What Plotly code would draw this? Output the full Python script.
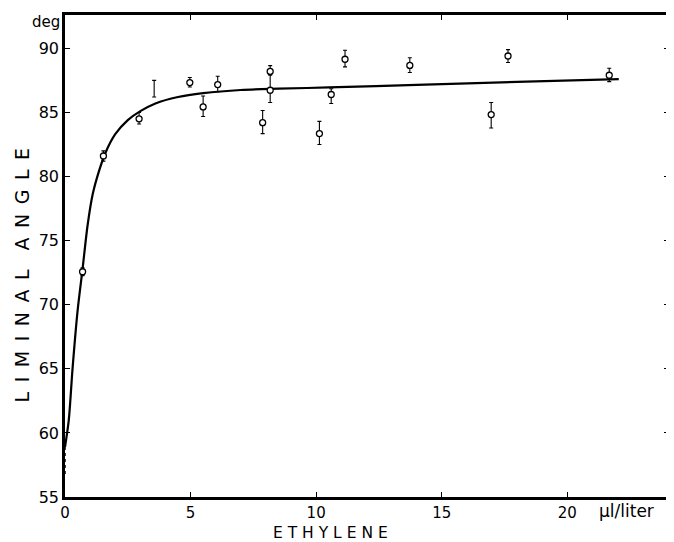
import plotly.graph_objects as go

# Measured data points (ethylene µl/liter, liminal angle deg)
pt_x = [0.70, 1.53, 2.95, 4.97, 5.50, 6.08, 7.87, 8.17, 8.17, 10.13, 10.60, 11.15, 13.73, 16.97, 17.64, 21.67]
pt_y = [72.57, 81.60, 84.50, 87.33, 85.43, 87.17, 84.20, 88.20, 86.73, 83.35, 86.40, 89.15, 88.67, 84.83, 89.40, 87.90]
pt_err_plus = [0.30, 0.40, 0.50, 0.40, 0.85, 0.65, 0.95, 0.45, 1.30, 0.95, 0.45, 0.70, 0.60, 0.95, 0.50, 0.55]
pt_err_minus = [0.30, 0.40, 0.40, 0.35, 0.75, 0.55, 0.85, 0.30, 0.95, 0.85, 0.70, 0.60, 0.55, 1.05, 0.50, 0.50]

# Error bar without a plotted circle
bar_x = [3.55]
bar_y = [86.85]
bar_err = [0.65]

# Dotted range at zero ethylene
zero_x = 0.0
zero_lo = 56.8
zero_hi = 58.9

# Fitted curve
curve_x = [0.0, 0.15, 0.30, 0.50, 0.70, 0.90, 1.10, 1.35, 1.60, 2.00, 2.50, 3.00, 3.60, 4.50,
           5.50, 7.00, 8.50, 10.50, 14.00, 18.00, 22.05]
curve_y = [58.9, 61.0, 65.0, 69.5, 72.8, 76.2, 78.6, 80.4, 81.8, 83.3, 84.4, 85.1, 85.7, 86.2,
           86.5, 86.75, 86.85, 86.95, 87.15, 87.38, 87.6]

x_ticks = [0, 5, 10, 15, 20]
y_ticks = [55, 60, 65, 70, 75, 80, 85, 90]

FONT = "DejaVu Sans"
EN = "\u2002"

fig = go.Figure()

# gap in the axis + dotted range at x=0
fig.add_trace(go.Scatter(x=[zero_x, zero_x], y=[zero_lo, zero_hi], mode="lines",
                         line=dict(color="white", width=5), cliponaxis=False,
                         hoverinfo="skip", showlegend=False))
fig.add_trace(go.Scatter(x=[zero_x, zero_x], y=[zero_lo, zero_hi], mode="lines",
                         line=dict(color="black", width=1.5, dash="dot"), cliponaxis=False,
                         hoverinfo="skip", showlegend=False))

fig.add_trace(go.Scatter(x=curve_x, y=curve_y, mode="lines",
                         line=dict(color="black", width=2.2, shape="spline", smoothing=0.8),
                         cliponaxis=False, showlegend=False))

fig.add_trace(go.Scatter(x=bar_x, y=bar_y, mode="markers",
                         marker=dict(size=1, color="rgba(0,0,0,0)"),
                         error_y=dict(type="data", array=bar_err, color="black",
                                      thickness=1.1, width=2),
                         showlegend=False))

fig.add_trace(go.Scatter(x=pt_x, y=pt_y, mode="markers",
                         marker=dict(symbol="circle", size=6, color="white",
                                     line=dict(color="black", width=1.3)),
                         error_y=dict(type="data", symmetric=False, array=pt_err_plus,
                                      arrayminus=pt_err_minus, color="black",
                                      thickness=1.1, width=2),
                         showlegend=False))

axis_common = dict(showline=True, linecolor="black", linewidth=2.5, mirror="allticks",
                   ticks="inside", ticklen=5, tickwidth=1.2, tickcolor="black",
                   showgrid=False, zeroline=False, layer="below traces")

fig.update_xaxes(range=[0, 24.05], tickvals=x_ticks, ticktext=[str(v) for v in x_ticks],
                 tickfont=dict(family=FONT, size=15, color="black"), **axis_common)
fig.update_yaxes(range=[55, 92.6], tickvals=y_ticks, ticktext=[str(v) for v in y_ticks],
                 tickfont=dict(family=FONT, size=16, color="black"), **axis_common)

y_title = EN.join("LIMINAL") + EN + EN + EN.join("ANGLE")
x_title = " ".join("ETHYLENE")

fig.update_layout(
    width=666, height=534,
    margin=dict(l=57, r=2, t=7, b=45),
    paper_bgcolor="white", plot_bgcolor="white",
    font=dict(family=FONT, color="black"),
    annotations=[
        dict(text=x_title, xref="paper", yref="paper", x=0.44, y=-0.074,
             xanchor="center", yanchor="middle", showarrow=False,
             font=dict(family=FONT, size=15.5)),
        dict(text=y_title, xref="paper", yref="paper",
             x=-0.071, y=0.46, textangle=-90, xanchor="center", yanchor="middle",
             showarrow=False, font=dict(family=FONT, size=19)),
        dict(text="deg", xref="paper", yref="paper", x=-0.031, y=0.985,
             xanchor="center", yanchor="middle", showarrow=False,
             font=dict(family=FONT, size=15)),
        dict(text="\u03bcl/liter", xref="paper", yref="paper", x=0.93, y=-0.029,
             xanchor="center", yanchor="middle", showarrow=False,
             font=dict(family=FONT, size=17)),
    ],
)

fig.write_html("out.html")
